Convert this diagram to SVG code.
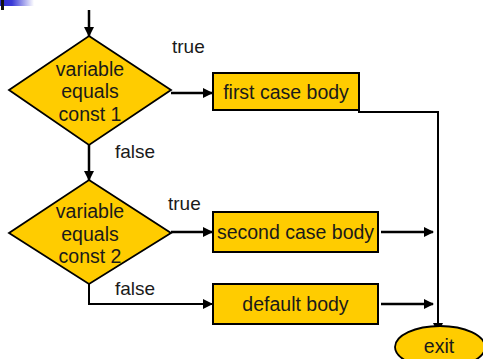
<svg xmlns="http://www.w3.org/2000/svg" width="483" height="359" viewBox="0 0 483 359">
  <style>
    .shape { fill: #FFCC00; stroke: #000; stroke-width: 1.8; }
    .box { fill: #FFCC00; stroke: #000; stroke-width: 2; }
    .txt { font-family: "Liberation Sans", Arial, sans-serif; font-size: 19.5px; fill: #1a1a1a; text-anchor: middle; }
    .lbl { font-family: "Liberation Sans", Arial, sans-serif; font-size: 19px; fill: #1a1a1a; }
    .wire { fill: none; stroke: #000; stroke-width: 2.5; }
    .thin { fill: none; stroke: #000; stroke-width: 2; }
  </style>
  <defs>
    <marker id="arrow" markerUnits="userSpaceOnUse" markerWidth="10" markerHeight="10" refX="9" refY="5" orient="auto">
      <path d="M0,0 L10,5 L0,10 z" fill="#000"/>
    </marker>
    <linearGradient id="barFade" x1="0" y1="0" x2="1" y2="0">
      <stop offset="0" stop-color="#2b2bd0"/>
      <stop offset="0.35" stop-color="#3a3ad6"/>
      <stop offset="1" stop-color="#ffffff"/>
    </linearGradient>
  </defs>

  <!-- corner decoration -->
  <rect x="0" y="0" width="34" height="6" fill="url(#barFade)"/>
  <rect x="1" y="0" width="3" height="10" fill="#111"/>

  <!-- connectors -->
  <g id="connectors">
    <line class="wire" x1="89" y1="10" x2="89" y2="36" marker-end="url(#arrow)"/>
    <line class="wire" x1="171" y1="93" x2="212" y2="93" marker-end="url(#arrow)"/>
    <line class="wire" x1="89" y1="145" x2="89" y2="180" marker-end="url(#arrow)"/>
    <polyline class="thin" points="358,112 438,112 438,332" marker-end="url(#arrow)"/>
    <line class="wire" x1="171" y1="232" x2="212" y2="232" marker-end="url(#arrow)"/>
    <polyline class="thin" points="89,283 89,304 212,304" marker-end="url(#arrow)"/>
    <line class="wire" x1="381" y1="232" x2="433" y2="232" marker-end="url(#arrow)"/>
    <line class="wire" x1="381" y1="304" x2="433" y2="304" marker-end="url(#arrow)"/>
    <text class="lbl" x="172" y="53">true</text>
    <text class="lbl" x="115" y="158">false</text>
    <text class="lbl" x="168" y="210">true</text>
    <text class="lbl" x="115" y="295">false</text>
  </g>

  <g id="decision1">
    <polygon class="shape" points="89,36 171,90 89,145 9,90"/>
    <text class="txt" x="90" y="76">variable</text>
    <text class="txt" x="90" y="98">equals</text>
    <text class="txt" x="90" y="121">const 1</text>
  </g>

  <g id="decision2">
    <polygon class="shape" points="89,180 171,233 89,284 9,233"/>
    <text class="txt" x="90" y="218">variable</text>
    <text class="txt" x="90" y="241">equals</text>
    <text class="txt" x="90" y="263">const 2</text>
  </g>

  <g id="firstCase">
    <rect class="box" x="213" y="73" width="146" height="37"/>
    <text class="txt" x="286" y="99">first case body</text>
  </g>

  <g id="secondCase">
    <rect class="box" x="213" y="212" width="165" height="40"/>
    <text class="txt" x="295.5" y="239">second case body</text>
  </g>

  <g id="defaultCase">
    <rect class="box" x="213" y="284" width="165" height="40"/>
    <text class="txt" x="295.5" y="311">default body</text>
  </g>

  <g id="exit">
    <ellipse class="shape" cx="440" cy="347" rx="45" ry="21"/>
    <text class="txt" x="439" y="353">exit</text>
  </g>
</svg>
